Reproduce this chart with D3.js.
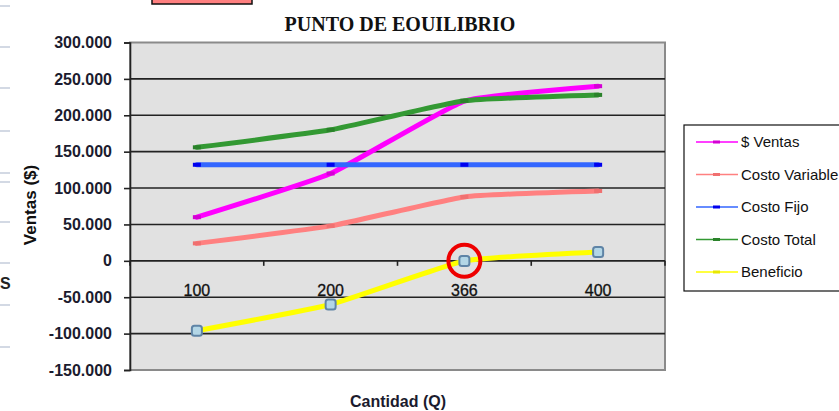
<!DOCTYPE html>
<html>
<head>
<meta charset="utf-8">
<script src="https://cdn.jsdelivr.net/npm/d3@7"></script>
<style>
  body { margin: 0; background: #fff; }
  svg { display: block; font-family: Arial, "Liberation Sans", sans-serif; }
</style>
</head>
<body>
<div id="chart"></div>
<script>
// data
const cantidades = ["100", "200", "366", "400"];
const ventas = [60000, 120000, 219600, 240000];
const costoVariable = [24000, 48000, 87840, 96000];
const costoFijo = [132000, 132000, 132000, 132000];
const costoTotal = [156000, 180000, 219840, 228000];
const beneficio = [-96000, -60000, -240, 12000];
const yTicks = [-150000, -100000, -50000, 0, 50000, 100000, 150000, 200000, 250000, 300000];

const series = [
  { name: "$ Ventas", values: ventas, color: "#ff00ff", mark: "#d400d4" },
  { name: "Costo Variable", values: costoVariable, color: "#ff8080", mark: "#f07070" },
  { name: "Costo Fijo", values: costoFijo, color: "#3366ff", mark: "#0000ee" },
  { name: "Costo Total", values: costoTotal, color: "#339933", mark: "#2a822a" },
  { name: "Beneficio", values: beneficio, color: "#ffff00", mark: "#e8e800" }
];

const W = 839, H = 411;
const plot = { left: 130, right: 665, top: 42.5, bottom: 370 };

const svg = d3.select("#chart").append("svg")
  .attr("width", W)
  .attr("height", H);

const locale = d3.formatLocale({ decimal: ",", thousands: ".", grouping: [3], currency: ["$", ""], minus: "-" });
const fmt = locale.format(",d");

const x = d3.scalePoint().domain(cantidades).range([plot.left, plot.right]).padding(0.5);
const xBand = d3.scaleBand().domain(cantidades).range([plot.left, plot.right]);
const y = d3.scaleLinear().domain([-150000, 300000]).range([plot.bottom, plot.top]);

// stray bits of the spreadsheet around the chart
const edgeMarks = [6, 47, 88, 131, 173, 182, 222, 263, 305, 347];
svg.selectAll(".edge").data(edgeMarks).enter().append("line")
  .attr("x1", 0).attr("x2", 10)
  .attr("y1", d => d).attr("y2", d => d)
  .attr("stroke", "#c5cddb").attr("stroke-width", 1.5);
svg.append("text").attr("x", 0).attr("y", 289)
  .style("font-size", "16px").style("font-weight", "bold").attr("fill", "#222").text("S");
svg.append("rect").attr("x", 152).attr("y", -3).attr("width", 100).attr("height", 7)
  .attr("fill", "#ff8080").attr("stroke", "#111").attr("stroke-width", 1.5);

// plot area
svg.append("rect")
  .attr("x", plot.left).attr("y", plot.top)
  .attr("width", plot.right - plot.left).attr("height", plot.bottom - plot.top)
  .attr("fill", "#e1e1e1").attr("stroke", "#8a8a8a").attr("stroke-width", 2);

svg.append("g").selectAll("line")
  .data(yTicks.filter(t => t > -150000 && t < 300000))
  .enter().append("line")
  .attr("x1", plot.left).attr("x2", plot.right)
  .attr("y1", d => y(d)).attr("y2", d => y(d))
  .attr("stroke", "#222").attr("stroke-width", 1.6);

// y axis
const yAxis = svg.append("g")
  .attr("transform", `translate(${plot.left},0)`)
  .call(d3.axisLeft(y).tickValues(yTicks).tickFormat(fmt).tickSize(6).tickPadding(12));
yAxis.select(".domain").attr("stroke", "#222").attr("stroke-width", 1.6);
yAxis.selectAll(".tick line").attr("stroke", "#222").attr("stroke-width", 1.6);
yAxis.selectAll("text")
  .style("font-size", "16px").style("font-weight", "bold").attr("fill", "#1b1b2e");

// category axis on the zero line
const bounds = cantidades.map(c => xBand(c)).concat([plot.right]);
svg.append("g").selectAll("line").data(bounds).enter().append("line")
  .attr("x1", d => d).attr("x2", d => d)
  .attr("y1", y(0)).attr("y2", y(0) + 5)
  .attr("stroke", "#222").attr("stroke-width", 1.6);
svg.append("g").selectAll("text").data(cantidades).enter().append("text")
  .attr("x", d => x(d)).attr("y", y(0) + 35)
  .attr("text-anchor", "middle")
  .style("font-size", "16px").attr("fill", "#111")
  .attr("stroke", "#111").attr("stroke-width", 0.3)
  .text(d => d);

// lines, lightly smoothed like the spreadsheet does it
const line = d3.line()
  .x((d, i) => x(cantidades[i]))
  .y(d => y(d))
  .curve(d3.curveCardinal.tension(0.6));

series.forEach(s => {
  svg.append("path")
    .attr("d", line(s.values))
    .attr("fill", "none")
    .attr("stroke", s.color)
    .attr("stroke-width", 5)
    .attr("stroke-linecap", "round");
  if (s.name !== "Beneficio") {
    svg.append("g").selectAll("rect").data(s.values).enter().append("rect")
      .attr("x", (d, i) => x(cantidades[i]) - 4)
      .attr("y", d => y(d) - 2)
      .attr("width", 8).attr("height", 4)
      .attr("fill", s.mark);
  }
});

// markers on Beneficio
svg.append("g").selectAll("rect").data(beneficio).enter().append("rect")
  .attr("x", (d, i) => x(cantidades[i]) - 5)
  .attr("y", d => y(d) - 5)
  .attr("width", 10).attr("height", 10).attr("rx", 2.5)
  .attr("fill", "#b3d6e6").attr("stroke", "#5f84a6").attr("stroke-width", 2);

// break-even highlight
svg.append("circle")
  .attr("cx", x("366")).attr("cy", y(0))
  .attr("r", 16)
  .attr("fill", "none").attr("stroke", "#ee0000").attr("stroke-width", 4);

// titles
svg.append("text")
  .attr("x", 400).attr("y", 31)
  .attr("text-anchor", "middle")
  .style("font-family", "'Liberation Serif', 'Times New Roman', serif")
  .style("font-size", "20px").style("font-weight", "bold")
  .attr("fill", "#111")
  .text("PUNTO DE EOUILIBRIO");

svg.append("text")
  .attr("transform", "translate(36,205) rotate(-90)")
  .attr("text-anchor", "middle")
  .style("font-size", "17px").style("font-weight", "bold")
  .attr("fill", "#111")
  .text("Ventas ($)");

svg.append("text")
  .attr("x", 398).attr("y", 407)
  .attr("text-anchor", "middle")
  .style("font-size", "16px").style("font-weight", "bold")
  .attr("fill", "#1b1b2e")
  .text("Cantidad (Q)");

// legend
const legend = svg.append("g").attr("transform", "translate(684,125)");
legend.append("rect")
  .attr("width", 170).attr("height", 166)
  .attr("fill", "#fff").attr("stroke", "#111").attr("stroke-width", 1.2);
const item = legend.selectAll(".item").data(series).enter().append("g")
  .attr("transform", (d, i) => `translate(0,${17 + i * 32.5})`);
item.append("line")
  .attr("x1", 12).attr("x2", 54)
  .attr("stroke", d => d.color).attr("stroke-width", 1.6);
item.append("rect")
  .attr("x", 29).attr("y", -1.5).attr("width", 7).attr("height", 3)
  .attr("fill", d => d.mark);
item.append("text")
  .attr("x", 57).attr("y", 5)
  .style("font-size", "15px").attr("fill", "#111")
  .text(d => d.name);
</script>
</body>
</html>
